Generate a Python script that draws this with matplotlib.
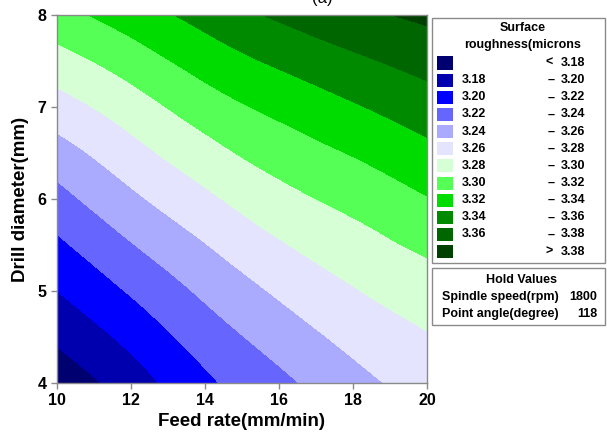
import numpy as np
import matplotlib.pyplot as plt
import matplotlib.tri as mtri
from matplotlib.patches import Rectangle

# values
feed = [10, 12, 14, 16, 18, 20]          # Feed rate (mm/min)
drill = [4, 5, 6, 7, 8]                  # Drill diameter (mm)
# surface roughness (microns), one row per drill diameter, one column per feed rate
rough = [
    [3.167, 3.190, 3.216, 3.235, 3.2535, 3.268],
    [3.200, 3.222, 3.2438, 3.2629, 3.2786, 3.2903],
    [3.2331, 3.2558, 3.2757, 3.2933, 3.3059, 3.319],
    [3.2714, 3.2904, 3.3102, 3.3252, 3.338, 3.3507],
    [3.3129, 3.330, 3.347, 3.363, 3.375, 3.384],
]
levels = [3.18, 3.20, 3.22, 3.24, 3.26, 3.28, 3.30, 3.32, 3.34, 3.36, 3.38]
colours = ['#000070', '#0000AE', '#0000FF', '#6666FF', '#AAAAFF', '#E4E4FE',
           '#D6FFD6', '#55FF55', '#00DC00', '#008A00', '#006600', '#004000']
hold_names = ['Spindle speed(rpm)', 'Point angle(degree)']
hold_vals = ['1800', '118']

W, H = 607, 434
plt.rcParams['font.family'] = ['Liberation Sans', 'DejaVu Sans']
fig = plt.figure(figsize=(W / 100, H / 100), dpi=100)


def fx(x):
    return x / W


def fy(y):
    return 1 - y / H


ax = fig.add_axes([fx(57), fy(383), fx(427) - fx(57), fy(15) - fy(383)])

X, Y = np.meshgrid(feed, drill)
tri = mtri.Triangulation(X.ravel(), Y.ravel())
refiner = mtri.UniformTriRefiner(tri)
tri_f, z_f = refiner.refine_field(np.array(rough).ravel(), subdiv=4)
ax.tricontourf(tri_f, z_f, levels=[3.0] + levels + [3.6], colors=colours)

ax.set_xlim(10, 20)
ax.set_ylim(4, 8)
ax.set_xticks([10, 12, 14, 16, 18, 20])
ax.set_yticks([4, 5, 6, 7, 8])
for s in ax.spines.values():
    s.set_color('#8a8a8a')
    s.set_linewidth(1)
ax.tick_params(colors='#8a8a8a', labelcolor='black', length=4, width=1,
               labelsize=11.5)
for lab in ax.get_xticklabels() + ax.get_yticklabels():
    lab.set_fontweight('bold')
ax.set_xlabel('Feed rate(mm/min)', fontsize=13.5, fontweight='bold', labelpad=3)
ax.set_ylabel('Drill diameter(mm)', fontsize=13.5, fontweight='bold', labelpad=6)

fig.text(fx(322), fy(3), '(a)', ha='center', va='baseline', fontsize=12)

# legend box for the contour levels
fig.add_artist(Rectangle((fx(432), fy(263)), fx(605) - fx(432), fy(18) - fy(263),
                         transform=fig.transFigure, fill=False,
                         edgecolor='#8a8a8a', lw=1))
fig.text(fx(523), fy(28), 'Surface', ha='center', va='center',
         fontsize=9, fontweight='bold')
fig.text(fx(523), fy(45), 'roughness(microns', ha='center', va='center',
         fontsize=9, fontweight='bold')
for i, c in enumerate(colours):
    yc = 63 + i * 17.15
    fig.add_artist(Rectangle((fx(437), fy(yc + 6.5)), fx(16), 13 / H,
                             transform=fig.transFigure, facecolor=c,
                             edgecolor='none'))
    if i == 0:
        fig.text(fx(549), fy(yc), '<', ha='center', va='center',
                 fontsize=9, fontweight='bold')
        fig.text(fx(585), fy(yc), f'{levels[0]:.2f}', ha='right', va='center',
                 fontsize=9, fontweight='bold')
    elif i == len(colours) - 1:
        fig.text(fx(549), fy(yc), '>', ha='center', va='center',
                 fontsize=9, fontweight='bold')
        fig.text(fx(585), fy(yc), f'{levels[-1]:.2f}', ha='right', va='center',
                 fontsize=9, fontweight='bold')
    else:
        fig.text(fx(462), fy(yc), f'{levels[i - 1]:.2f}', ha='left', va='center',
                 fontsize=9, fontweight='bold')
        fig.text(fx(551), fy(yc), '\u2013', ha='center', va='center',
                 fontsize=9, fontweight='bold')
        fig.text(fx(585), fy(yc), f'{levels[i]:.2f}', ha='right', va='center',
                 fontsize=9, fontweight='bold')

# hold values box
fig.add_artist(Rectangle((fx(432), fy(325)), fx(605) - fx(432), fy(268) - fy(325),
                         transform=fig.transFigure, fill=False,
                         edgecolor='#8a8a8a', lw=1))
fig.text(fx(521), fy(280), 'Hold Values', ha='center', va='center',
         fontsize=9, fontweight='bold')
for k, (name, val) in enumerate(zip(hold_names, hold_vals)):
    yc = 297 + k * 17
    fig.text(fx(442), fy(yc), name, ha='left', va='center',
             fontsize=9, fontweight='bold')
    fig.text(fx(597), fy(yc), val, ha='right', va='center',
             fontsize=9, fontweight='bold')

fig.savefig('out.png', dpi=100)
